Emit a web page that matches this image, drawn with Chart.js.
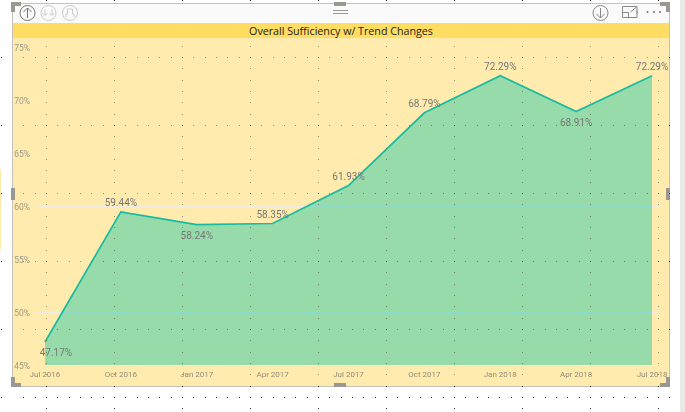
<!DOCTYPE html>
<html>
<head>
<meta charset="utf-8">
<title>Overall Sufficiency w/ Trend Changes</title>
<script src="https://cdn.jsdelivr.net/npm/chart.js@4"></script>
<style>
    html, body { margin: 0; padding: 0; background: #fff; overflow: hidden; }
    #page { position: relative; width: 685px; height: 412px; overflow: hidden; }
    #page div, #page svg, #chart { position: absolute; }
    #chart { left: 0; top: 0; }
    #rightStrip { left: 680px; top: 0; width: 5px; height: 412px; background: #e9e9e6; }
    #leftStrip { left: 0; top: 170px; width: 1px; height: 79px; background: #ffe9a8; }
    #frame { left: 12px; top: 3px; width: 656px; height: 382px; border: solid #c4c4bc; border-width: 1px 1px 1px 1px; background: #feebad; box-sizing: content-box; }
    #header { left: 13px; top: 4px; width: 656px; height: 19px; background: #fafafa; }
    #titleBand { left: 13px; top: 23px; width: 656px; height: 15px; background: #ffdd63; color: #222; font: 10.7px/16px "Open Sans", sans-serif; text-align: center; }
    .handle { background: #9b9791; }
</style>
</head>
<body>
<div id="page">
    <div id="rightStrip"></div>
    <div id="leftStrip"></div>
    <div id="frame"></div>
    <div id="header"></div>
    <div id="titleBand">Overall Sufficiency w/ Trend Changes</div>

    <!-- corner and edge handles -->
    <div class="handle" style="left:11px;top:2px;width:10px;height:4px"></div>
    <div class="handle" style="left:11px;top:2px;width:4px;height:10px"></div>
    <div class="handle" style="left:660px;top:2px;width:10px;height:4px"></div>
    <div class="handle" style="left:666px;top:2px;width:4px;height:10px"></div>
    <div class="handle" style="left:11px;top:383px;width:10px;height:4px"></div>
    <div class="handle" style="left:11px;top:377px;width:4px;height:10px"></div>
    <div class="handle" style="left:660px;top:383px;width:10px;height:4px"></div>
    <div class="handle" style="left:666px;top:377px;width:4px;height:10px"></div>
    <div class="handle" style="left:334px;top:2px;width:12px;height:4px"></div>
    <div class="handle" style="left:334px;top:383px;width:12px;height:4px"></div>
    <div class="handle" style="left:11px;top:188px;width:4px;height:12px"></div>
    <div class="handle" style="left:666px;top:188px;width:4px;height:12px"></div>

    <!-- header icons -->
    <svg style="left:0;top:0" width="685" height="24" fill="none">
        <g stroke="#777" stroke-width="1">
            <circle cx="27.5" cy="13" r="7.5"/>
            <path d="M27.5 18V8M23.5 12l4-4 4 4"/>
        </g>
        <g stroke="#ccc" stroke-width="1">
            <circle cx="48.5" cy="13" r="7.5"/>
            <path d="M45 9v6M42.5 13l2.500 2.500 2.500-2.500M52 9v6M49.500 13l2.500 2.500 2.500-2.500"/>
            <circle cx="70" cy="13" r="7.5"/>
            <path d="M66 17v-3h1.500v-5h5v5H74v3"/>
        </g>
        <g stroke="#999" stroke-width="1">
            <path d="M333 10.500h15M333 13.500h15"/>
        </g>
        <g stroke="#888" stroke-width="1">
            <circle cx="600.500" cy="13" r="7.500"/>
            <path d="M600.500 8v10M596.500 14l4 4 4-4"/>
            <path d="M637 6.500h-14.500v11h14.500v-7M622.500 12.500h6v5M630 6.500h7v7M636.500 7l-6 5"/>
        </g>
        <g fill="#777">
            <circle cx="647.500" cy="12" r="1"/>
            <circle cx="654" cy="12" r="1"/>
            <circle cx="660" cy="12" r="1"/>
        </g>
    </svg>
    <canvas id="chart" width="685" height="412"></canvas>
</div>

<script>
const categories = ['Jul 2016', 'Oct 2016', 'Jan 2017', 'Apr 2017', 'Jul 2017', 'Oct 2017', 'Jan 2018', 'Apr 2018', 'Jul 2018'];
const sufficiency = [47.17, 59.44, 58.24, 58.35, 61.93, 68.79, 72.29, 68.91, 72.29];
const labelBelow = [true, false, true, false, false, false, false, true, false];
const yTicks = [45, 50, 55, 60, 65, 70, 75];

// value labels next to each point
const pointLabels = {
    id: 'pointLabels',
    afterDatasetsDraw(chart) {
        const ctx = chart.ctx;
        const points = chart.getDatasetMeta(0).data;
        ctx.save();
        ctx.font = '10px Roboto, sans-serif';
        ctx.fillStyle = '#777';
        ctx.textAlign = 'center';
        ctx.textBaseline = 'middle';
        points.forEach((point, i) => {
            const text = sufficiency[i].toFixed(2) + '%';
            const y = point.y + (labelBelow[i] ? 12 : -8);
            const x = i === 0 ? point.x + 11 : point.x;
            ctx.fillText(text, x, y);
        });
        ctx.restore();
    }
};

// the dotted layout grid of the report page sits on top of the visual
const pageDots = {
    id: 'pageDots',
    afterDraw(chart) {
        const ctx = chart.ctx;
        const step = 34 / 3;
        ctx.save();
        for (let row = 57; row < 412; row += 68) {
            for (let x = 46 - 4 * step; x < 670; x += step) {
                if (x > 3 && x < 20) continue;
                drawDot(ctx, x, row);
            }
        }
        for (let col = 46; col < 670; col += 68) {
            for (let y = 57 - 5 * step; y < 412; y += step) {
                drawDot(ctx, col, y);
            }
        }
        ctx.restore();
    }
};

function drawDot(ctx, x, y) {
    const inside = x > 13 && x < 668 && y > 38 && y < 385;
    if (!inside && y > 3 && y < 38) return;
    ctx.fillStyle = inside ? 'rgba(90,80,40,0.6)' : '#222';
    ctx.fillRect(Math.round(x), Math.round(y), 1, 1);
}

new Chart(document.getElementById('chart'), {
    type: 'line',
    data: {
        datasets: [{
            data: sufficiency.map((value, i) => ({ x: i, y: value })),
            borderColor: '#17bba0',
            borderWidth: 1.7,
            backgroundColor: 'rgba(27,200,169,0.45)',
            fill: 'start',
            tension: 0,
            pointRadius: 0
        }]
    },
    options: {
        responsive: false,
        animation: false,
        layout: { padding: { left: 0, right: 25, top: 47, bottom: 25 } },
        plugins: { legend: { display: false }, tooltip: { enabled: false } },
        scales: {
            x: {
                type: 'linear',
                min: -0.105,
                max: 8.105,
                afterBuildTicks(axis) {
                    axis.ticks = categories.map((c, i) => ({ value: i }));
                },
                afterFit(axis) { axis.height = 22; },
                grid: { display: false, drawTicks: false, tickLength: 0 },
                border: { display: false },
                ticks: {
                    autoSkip: false,
                    maxRotation: 0,
                    padding: 5,
                    color: '#918c7c',
                    font: { family: 'Roboto, sans-serif', size: 8 },
                    callback: value => categories[value]
                }
            },
            y: {
                min: 45,
                max: 75,
                afterBuildTicks(axis) {
                    axis.ticks = yTicks.map(v => ({ value: v }));
                },
                afterFit(axis) { axis.width = 37; },
                grid: { color: '#efece4', drawTicks: false, lineWidth: 1 },
                border: { display: false },
                ticks: {
                    padding: 7,
                    labelOffset: 1.5,
                    color: '#a09a88',
                    font: { family: 'Roboto, sans-serif', size: 8.5 },
                    callback: value => value + '%'
                }
            }
        }
    },
    plugins: [pointLabels, pageDots]
});
</script>
</body>
</html>
